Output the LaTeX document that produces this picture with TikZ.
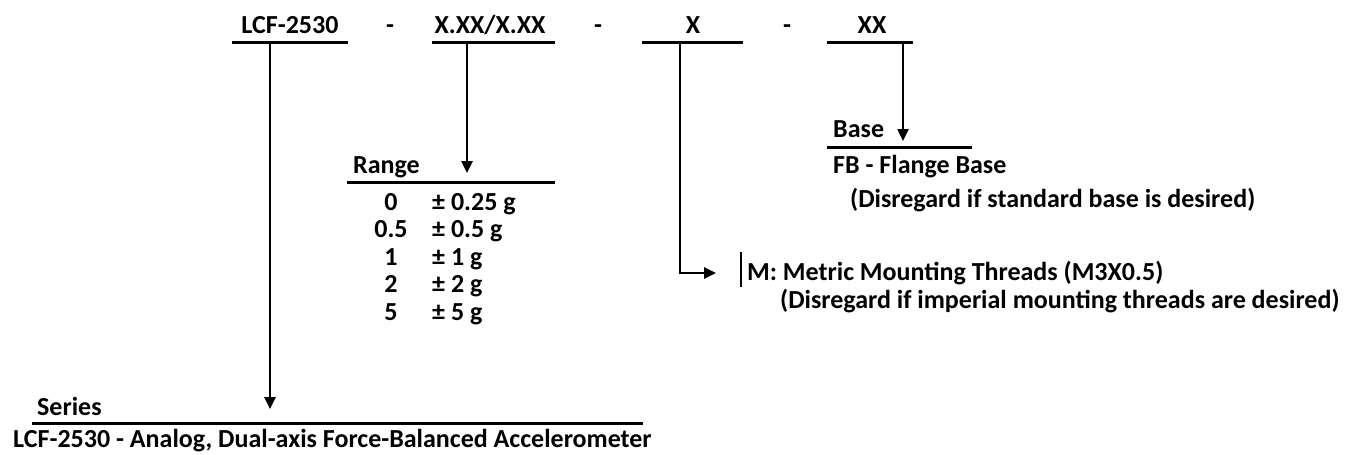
\documentclass[tikz,border=0pt]{standalone}
\usepackage{fontspec}
\setmainfont{Carlito}
\usetikzlibrary{arrows.meta, positioning}

\begin{document}
\begin{tikzpicture}[
    x=1pt, y=-1pt,
    code/.style={font=\fontsize{26}{30}\selectfont\bfseries, inner sep=0pt, anchor=base},
    txt/.style={font=\fontsize{26}{30}\selectfont\bfseries, inner sep=0pt, anchor=base west},
    rule/.style={line width=3pt},
    arrow/.style={line width=2.5pt, -{Triangle[length=12pt, width=11pt]}},
    bar/.style={line width=2pt}
]
\useasboundingbox (0,0) rectangle (1360,455);

% part number
\node[code] (series) at (290,33) {LCF-2530};
\node[code] (dash1) at (390,33) {-};
\node[code] (range) at (490,33) {X.XX/X.XX};
\node[code] (dash2) at (598,33) {-};
\node[code] (thread) at (693,33) {X};
\node[code] (dash3) at (787,33) {-};
\node[code] (base) at (872,33) {XX};
\draw[rule] (232,42) -- (348,42);
\draw[rule] (432,42) -- (555,42);
\draw[rule] (642,42) -- (743,42);
\draw[rule] (827,42) -- (913,42);
\coordinate (seriesdrop) at (270,42);
\coordinate (rangedrop) at (467,42);
\coordinate (threaddrop) at (680,42);
\coordinate (basedrop) at (903,42);

% base
\node[txt] (baselbl) at (833,137) {Base};
\draw[rule] (827,147) -- (972,147);
\coordinate (basetip) at (903,141);
\node[txt] (flange) at (833,173) {FB - Flange Base};
\node[txt] (basenote) at (850,207) {(Disregard if standard base is desired)};
\draw[arrow] (basedrop) -- (basetip);

% range
\node[txt] (rangelbl) at (353,173) {Range};
\draw[rule] (347,182) -- (555,182);
\coordinate (rangetip) at (467,173);
\draw[arrow] (rangedrop) -- (rangetip);
\foreach \code/\val [count=\i] in {0/0.25, 0.5/0.5, 1/1, 2/2, 5/5} {
    \node[code] (r\i) at (391,{210+27.5*(\i-1)}) {\code};
    \node[txt] (v\i) at (432,{210+27.5*(\i-1)}) {± \val\ g};
}

% mounting threads
\draw[bar] (741,252) -- (741,287);
\node[txt] (metric) at (747,280) {M: Metric Mounting Threads (M3X0.5)};
\node[txt] (metricnote) at (780,308) {(Disregard if imperial mounting threads are desired)};
\coordinate (threadtip) at (716,273);
\draw[arrow] (threaddrop) |- (threadtip);

% series
\node[txt] (serieslbl) at (37,415) {Series};
\draw[rule] (32,423) -- (643,423);
\coordinate (seriestip) at (270,409);
\draw[arrow] (seriesdrop) -- (seriestip);
\node[txt] (seriesdesc) at (13,447) {LCF-2530 - Analog, Dual-axis Force-Balanced Accelerometer};

\end{tikzpicture}
\end{document}
